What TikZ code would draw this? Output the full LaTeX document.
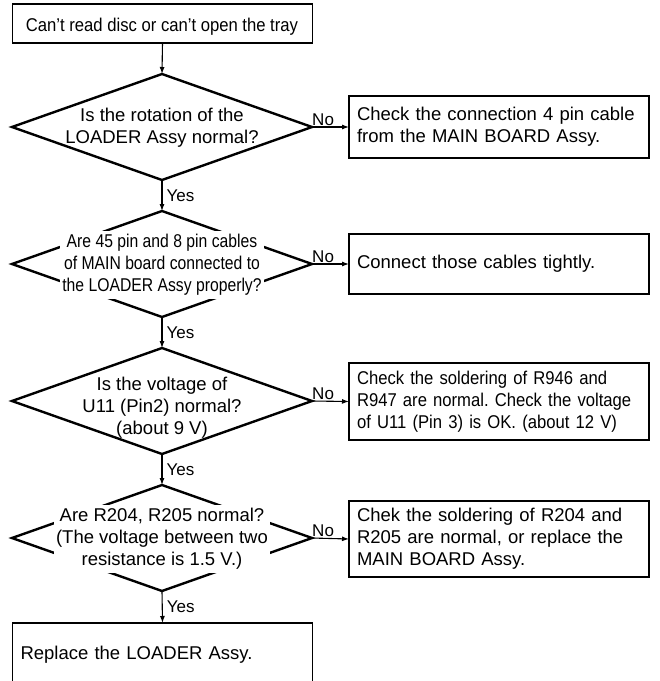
\documentclass[tikz,border=0pt]{standalone}
\usepackage{fontspec}
\setmainfont{Liberation Sans}
\newfontfamily\condA[FakeStretch=0.9]{Liberation Sans}
\newfontfamily\condB[FakeStretch=0.85]{Liberation Sans}
\usetikzlibrary{shapes.geometric,arrows.meta}
\frenchspacing
\tikzset{
  txt/.style={font=\fontsize{18.5}{22}\selectfont},
  lbl/.style={font=\fontsize{17}{20}\selectfont, inner sep=1pt},
  dia/.style={draw, shape=diamond, line width=2.4pt, minimum width=300pt, minimum height=106pt, inner sep=0pt, outer sep=0pt},
  dtext/.style={txt, align=center, inner sep=0pt},
  dtextw/.style={txt, align=center, fill=white, inner xsep=2pt, inner ysep=3pt},
  box/.style={draw, line width=1.8pt, rectangle, minimum width=300pt, text width=284pt, inner xsep=8pt, align=left, txt, outer sep=0pt},
  arr/.style={line width=1.1pt, -{Latex[length=7pt,width=5pt]}},
}
\begin{document}
\begin{tikzpicture}[x=1pt,y=-1pt]
\useasboundingbox (0,0) rectangle (660,681);
\clip (0,0) rectangle (660,681);
\fill[white] (0,0) rectangle (660,681);

\node[draw, line width=1.8pt, minimum width=300pt, minimum height=39pt, inner sep=0pt, txt, outer sep=0pt] (start) at (162.5,23.5) {};
\node[txt, inner sep=0pt] at (162,26.5) {\condA Can’t read disc or can’t open the tray};

\node[dia] (d1) at (162,127) {};
\node[dtext] at (162,128) {Is the rotation of the\\LOADER Assy normal?};
\node[box, minimum height=62pt] (b1) at (499,127) {Check the connection 4 pin cable\\from the MAIN BOARD Assy.};

\node[dia] (d2) at (162,264) {};
\node[dtextw] at (162,265) {\condB Are 45 pin and 8 pin cables\\\condB of MAIN board connected to\\\condB the LOADER Assy properly?};
\node[box, minimum height=60pt] (b2) at (499,264) {Connect those cables tightly.};

\node[dia] (d3) at (162,401) {};
\node[dtext] at (162,408) {Is the voltage of\\U11 (Pin2) normal?\\(about 9 V)};
\node[box, minimum height=77pt] (b3) at (499,401.5) {\condA Check the soldering of R946 and\\\condA R947 are normal. Check the voltage\\\condA of U11 (Pin 3) is OK. (about 12 V)};

\node[dia] (d4) at (162,538) {};
\node[dtextw] at (162,539) {Are R204, R205 normal?\\(The voltage between two\\resistance is 1.5 V.)};
\node[box, minimum height=76pt] (b4) at (499,539) {Chek the soldering of R204 and\\R205 are normal, or replace the\\MAIN BOARD Assy.};

\node[box, minimum height=64pt, anchor=north] (b5) at (162.5,623) {Replace the LOADER Assy.};

\draw[arr] (start.south) -- (d1.north);
\draw[arr] (d1.south) -- node[lbl, right, xshift=3pt] {Yes} (d2.north);
\draw[arr] (d2.south) -- node[lbl, right, xshift=3pt] {Yes} (d3.north);
\draw[arr] (d3.south) -- node[lbl, right, xshift=3pt] {Yes} (d4.north);
\draw[arr] (d4.south) -- node[lbl, right, xshift=3pt] {Yes} (b5.north);

\draw[arr] (d1.east) -- node[lbl, above, pos=0.3] {No} (b1.west);
\draw[arr] (d2.east) -- node[lbl, above, pos=0.3] {No} (b2.west);
\draw[arr] (d3.east) -- node[lbl, above, pos=0.3] {No} (b3.west);
\draw[arr] (d4.east) -- node[lbl, above, pos=0.3] {No} (b4.west);
\end{tikzpicture}
\end{document}
